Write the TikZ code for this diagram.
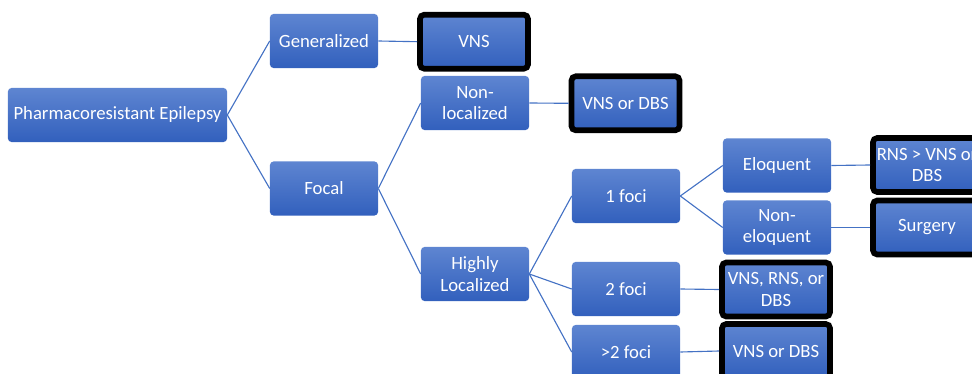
\documentclass[tikz,border=0pt]{standalone}
\usepackage{fontspec}
\setmainfont{Carlito}
\usetikzlibrary{shapes,arrows}
\definecolor{boxtop}{RGB}{94,133,209}
\definecolor{boxbottom}{RGB}{50,96,189}
\definecolor{linkblue}{RGB}{68,114,196}
\tikzstyle{choice} = [rectangle, rounded corners=2.5pt, minimum width=2.7cm, minimum height=1.35cm, inner sep=1pt, align=center, text=white, top color=boxtop, bottom color=boxbottom, font=\fontsize{13.3}{15.5}\selectfont]
\tikzstyle{therapy} = [choice, draw=black, line width=4pt, rounded corners=3pt]
\tikzstyle{link} = [draw=linkblue, line width=0.8pt]

\begin{document}
\begin{tikzpicture}[x=0.025cm, y=-0.025cm]
\useasboundingbox (0,0) rectangle (972,374);
\clip (0,0) rectangle (972,374);

% decision columns
\node (epilepsy) [choice, minimum width=5.475cm] at (117.5,115) {Pharmacoresistant Epilepsy};
\node (general) [choice] at (324,41) {Generalized};
\node (focal) [choice] at (324,188.5) {Focal};
\node (nonlocal) [choice] at (475,103) {Non-\\localized};
\node (highly) [choice] at (475,274) {Highly\\Localized};
\node (onefoci) [choice] at (626,196) {1 foci};
\node (twofoci) [choice] at (626,289) {2 foci};
\node (morefoci) [choice] at (626,352) {>2 foci};
\node (eloquent) [choice] at (777,165.5) {Eloquent};
\node (noneloq) [choice] at (777,227.5) {Non-\\eloquent};

% treatments
\node (vns) [therapy] at (474,41.7) {VNS};
\node (vnsdbs) [therapy] at (625.5,103.3) {VNS or DBS};
\node (rns) [therapy] at (927,165) {RNS > VNS or\\DBS};
\node (surgery) [therapy] at (927,227.5) {Surgery};
\node (vnsrnsdbs) [therapy] at (776,289.5) {VNS, RNS, or\\DBS};
\node (vnsdbs2) [therapy] at (776,351) {VNS or DBS};

\draw [link] (epilepsy.east) -- (general.west);
\draw [link] (epilepsy.east) -- (focal.west);
\draw [link] (general.east) -- (vns.west);
\draw [link] (focal.east) -- (nonlocal.west);
\draw [link] (focal.east) -- (highly.west);
\draw [link] (nonlocal.east) -- (vnsdbs.west);
\draw [link] (highly.east) -- (onefoci.west);
\draw [link] (highly.east) -- (twofoci.west);
\draw [link] (highly.east) -- (morefoci.west);
\draw [link] (onefoci.east) -- (eloquent.west);
\draw [link] (onefoci.east) -- (noneloq.west);
\draw [link] (eloquent.east) -- (rns.west);
\draw [link] (noneloq.east) -- (surgery.west);
\draw [link] (twofoci.east) -- (vnsrnsdbs.west);
\draw [link] (morefoci.east) -- (vnsdbs2.west);
\end{tikzpicture}
\end{document}
